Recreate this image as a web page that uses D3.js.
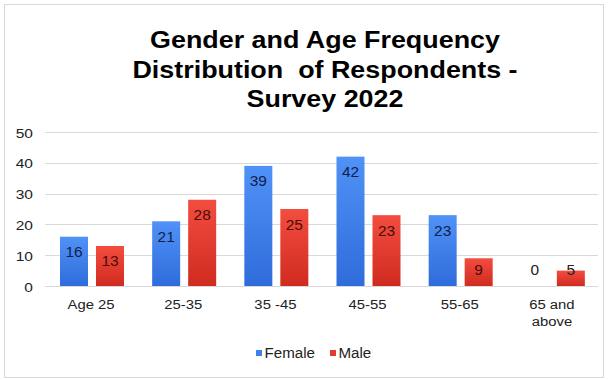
<!DOCTYPE html>
<html>
<head>
<meta charset="utf-8">
<script src="https://cdn.jsdelivr.net/npm/d3@7"></script>
<style>
  html, body { margin: 0; padding: 0; background: #fff; }
  svg { display: block; font-family: "Liberation Sans", Arial, sans-serif; }
  .pre { white-space: pre; }
</style>
</head>
<body>
<script>
// Age groups and respondent counts per gender
const categories = ["Age 25", "25-35", "35 -45", "45-55", "55-65", "65 and above"];
const femaleCounts = [16, 21, 39, 42, 23, 0];
const maleCounts = [13, 28, 25, 23, 9, 5];
const seriesNames = ["Female", "Male"];
const yTicks = [0, 10, 20, 30, 40, 50];
const titleLines = ["Gender and Age Frequency", "Distribution  of Respondents -", "Survey 2022"];

const W = 611, H = 380;
const margin = { left: 45, right: 13, top: 132, bottom: 94 };
const FONT = "Liberation Sans, Arial, sans-serif";

const svg = d3.select("body").append("svg").attr("width", W).attr("height", H);

// outer frame
svg.append("rect").attr("x", 4.5).attr("y", 4.5).attr("width", 599).attr("height", 373)
  .attr("fill", "#fff").attr("stroke", "#d9d9d9");

const defs = svg.append("defs");
const grads = [
  { id: "gF", top: "#5092f7", bottom: "#2f6cdb", label: "#10204a" },
  { id: "gM", top: "#f24d3f", bottom: "#d02b1f", label: "#4a0c08" }
];
grads.forEach(g => {
  const lg = defs.append("linearGradient").attr("id", g.id).attr("x1", 0).attr("y1", 0).attr("x2", 0).attr("y2", 1);
  lg.append("stop").attr("offset", "0%").attr("stop-color", g.top);
  lg.append("stop").attr("offset", "100%").attr("stop-color", g.bottom);
});

const x0 = d3.scaleBand().domain(categories).range([margin.left, W - margin.right]).paddingInner(0).paddingOuter(0);
const x1 = d3.scaleBand().domain(seriesNames).range([15, 15 + 64]).paddingInner(8 / 36).paddingOuter(0);
const y = d3.scaleLinear().domain([0, 50]).range([H - margin.bottom, margin.top]);

// text helper: places a label at (x, y) with a slight horizontal widening
function label(parent, x, yy, txt, size, anchor, sx, fill, weight) {
  return parent.append("text")
    .attr("transform", `translate(${x},${yy}) scale(${sx},1)`)
    .attr("text-anchor", anchor).attr("font-size", size).attr("font-family", FONT)
    .attr("font-weight", weight || "normal").attr("fill", fill).attr("class", "pre").text(txt);
}

// title
titleLines.forEach((t, i) => label(svg, 325, 48 + i * 29.5, t, 24, "middle", 1.12, "#000", "bold"));

// gridlines
svg.append("g").selectAll("line").data(yTicks).join("line")
  .attr("x1", margin.left).attr("x2", W - margin.right)
  .attr("y1", d => Math.round(y(d)) + 0.5).attr("y2", d => Math.round(y(d)) + 0.5)
  .attr("stroke", "#d9d9d9");

// y axis labels
const yAxis = d3.axisLeft(y).tickValues(yTicks).tickSize(0).tickPadding(0);
const yg = svg.append("g").attr("transform", `translate(33,0)`).call(yAxis);
yg.select(".domain").remove();
yg.selectAll("text").attr("font-size", 13.5).attr("fill", "#222").attr("font-family", FONT)
  .attr("dy", null).attr("y", 5).attr("transform", "scale(1.15,1)");

// x axis labels
const xAxis = d3.axisBottom(x0).tickSize(0).tickPadding(0);
const xg = svg.append("g").attr("transform", `translate(0,${y(0)})`).call(xAxis);
xg.select(".domain").remove();
xg.selectAll("text").attr("font-size", 13.5).attr("fill", "#222").attr("font-family", FONT)
  .attr("transform", "scale(1.1,1)")
  .each(function (d) {
    const t = d3.select(this);
    t.text(null).attr("dy", null).attr("y", 0);
    const parts = d === "65 and above" ? ["65 and", "above"] : [d];
    parts.forEach((p, i) => t.append("tspan").attr("x", 0).attr("y", 23 + i * 17).text(p));
  });

// bars
const seriesData = [femaleCounts, maleCounts];
const groups = svg.append("g").selectAll("g").data(categories).join("g")
  .attr("transform", d => `translate(${x0(d)},0)`);

groups.each(function (cat, ci) {
  const g = d3.select(this);
  seriesNames.forEach((s, si) => {
    const v = seriesData[si][ci];
    const bx = x1(s), bw = x1.bandwidth();
    g.append("rect").attr("x", bx).attr("y", y(v)).attr("width", bw).attr("height", y(0) - y(v))
      .attr("fill", `url(#${grads[si].id})`);
    const ly = Math.min(y(v) + 20.5, y(0) - 11);
    label(g, bx + bw / 2, ly, String(v), 15, "middle", 1.03, v >= 8 ? grads[si].label : "#222");
  });
});

// legend
const legend = svg.append("g");
const legendItems = [{ name: "Female", x: 256, c: "#3f7fee" }, { name: "Male", x: 330, c: "#e23c30" }];
legendItems.forEach(it => {
  legend.append("rect").attr("x", it.x).attr("y", 350).attr("width", 6).attr("height", 6).attr("fill", it.c);
  label(legend, it.x + 8.5, 358, it.name, 14, "start", 1.08, "#222");
});
</script>
</body>
</html>
